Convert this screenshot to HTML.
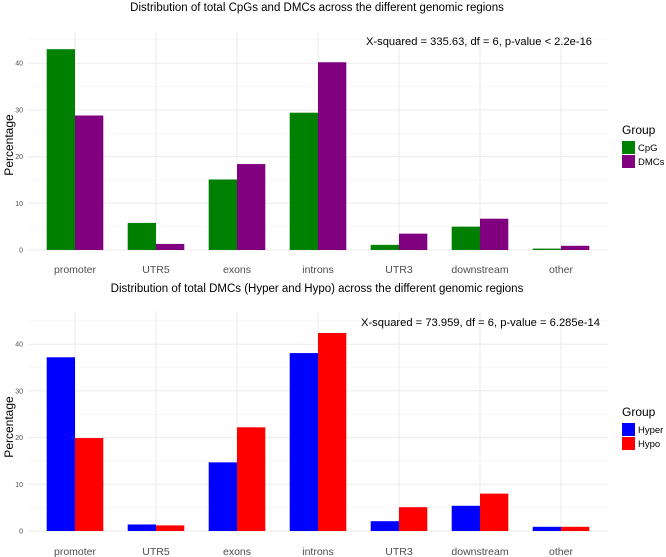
<!DOCTYPE html>
<html><head><meta charset="utf-8"><style>
body{margin:0;background:#fff;}
svg{display:block;font-family:"Liberation Sans",sans-serif;}
</style></head><body>
<svg id="c" width="666" height="557"></svg>
<script>
const categories=["promoter","UTR5","exons","introns","UTR3","downstream","other"];
const cpgValues=[43,5.8,15.1,29.4,1.1,5.0,0.3];
const dmcValues=[28.8,1.3,18.4,40.2,3.5,6.7,0.9];
const hyperValues=[37.2,1.4,14.7,38.1,2.1,5.4,0.9];
const hypoValues=[19.9,1.2,22.2,42.4,5.1,8.0,0.9];
const yTicks=[0,10,20,30,40];
const NS="http://www.w3.org/2000/svg";
const svg=document.getElementById('c');
function mk(tag,attrs,parent,text){const e=document.createElementNS(NS,tag);for(const k in attrs)e.setAttribute(k,attrs[k]);if(text!==undefined)e.textContent=text;(parent||svg).appendChild(e);return e;}
function panel(o){
  const g=mk('g',{});
  
  
  const y0=o.y0,ppu=4.67,left=28,right=608,top=o.top;
  const ys=v=>y0-v*ppu;
  const xs=i=>75+i*81;
  for(let v=5;v<=45;v+=10){if(ys(v)>top)mk('line',{x1:left,x2:right,y1:ys(v),y2:ys(v),stroke:'#f3f3f3','stroke-width':0.6},g);}
  yTicks.forEach(v=>{mk('line',{x1:left,x2:right,y1:ys(v),y2:ys(v),stroke:'#ebebeb','stroke-width':1},g);
    const t=mk('text',{x:23,y:ys(v)+2.5,'text-anchor':'end','font-size':7,fill:'#4d4d4d'},g,String(v));
    });
  categories.forEach((c,i)=>{mk('line',{x1:xs(i),x2:xs(i),y1:top,y2:y0,stroke:'#ebebeb','stroke-width':1},g);
    const t=mk('text',{x:xs(i),y:o.xlabY,'text-anchor':'middle','font-size':10.5,fill:'#4d4d4d'},g,c);
    });
  const bw=28.3;
  categories.forEach((c,i)=>{
    const a=o.s1[i],b=o.s2[i];
    const r1=mk('rect',{x:xs(i)-bw,y:ys(a),width:bw,height:a*ppu,fill:o.c1},g);
    
    const r2=mk('rect',{x:xs(i),y:ys(b),width:bw,height:b*ppu,fill:o.c2},g);
    
  });
  const ti=mk('text',{x:317,y:o.titleY,'text-anchor':'middle','font-size':11.5,fill:'#000'},g,o.title);
  
  const an=mk('text',{x:o.annX,y:o.annY,'font-size':11,fill:'#000',textLength:o.annW,lengthAdjust:'spacingAndGlyphs'},g,o.ann);
  
  const yl=mk('text',{x:0,y:0,'font-size':12,fill:'#000','text-anchor':'middle',transform:`translate(13,${o.ylabY}) rotate(-90)`},g,'Percentage');
  
  const lt=mk('text',{x:622,y:o.legY,'font-size':12,fill:'#000'},g,'Group');
  
  [[o.n1,o.c1],[o.n2,o.c2]].forEach((p,k)=>{
    const ky=o.legY+7+k*14;
    const r=mk('rect',{x:622,y:ky,width:13,height:13,fill:p[1]},g);
    
    const t=mk('text',{x:638,y:ky+10,'font-size':9.5,fill:'#000'},g,p[0]);
    
  });
}
panel({name:'cpg-dmc-panel',y0:250,top:32,xlabY:273,s1:cpgValues,s2:dmcValues,c1:'#008000',c2:'#800080',n1:'CpG',n2:'DMCs',
  title:'Distribution of total CpGs and DMCs across the different genomic regions',titleY:11,
  ann:'X-squared = 335.63, df = 6, p-value < 2.2e-16',annX:366,annY:45,annW:226,ylabY:145,legY:134});
panel({name:'hyper-hypo-panel',y0:531,top:311,xlabY:555,s1:hyperValues,s2:hypoValues,c1:'#0000ff',c2:'#ff0000',n1:'Hyper',n2:'Hypo',
  title:'Distribution of total DMCs (Hyper and Hypo) across the different genomic regions',titleY:292,
  ann:'X-squared = 73.959, df = 6, p-value = 6.285e-14',annX:361,annY:326,annW:239,ylabY:427,legY:416});
</script>
</body></html>
